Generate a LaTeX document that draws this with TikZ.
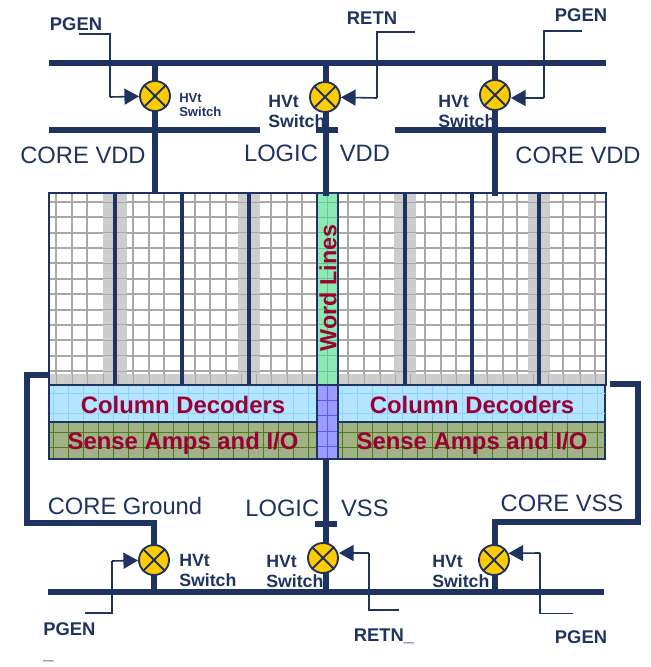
\documentclass[tikz,border=0pt]{standalone}
\usepackage{fontspec}
\setmainfont{Liberation Sans}
\usetikzlibrary{positioning, arrows.meta, backgrounds}
\definecolor{railblue}{HTML}{1F3360}
\definecolor{switchyellow}{HTML}{FFCC00}
\definecolor{textred}{HTML}{990033}
\definecolor{stripgray}{HTML}{CDCDCD}
\definecolor{gridgray}{HTML}{A8A8A8}
\definecolor{decblue}{HTML}{B4E4FF}
\definecolor{decgrid}{HTML}{8AD4FF}
\definecolor{ampgreen}{HTML}{A0B286}
\definecolor{ampgrid}{HTML}{4F7A1E}
\definecolor{wordgreen}{HTML}{8FE8B4}
\definecolor{wordgrid}{HTML}{5CCB8E}
\definecolor{midblue}{HTML}{9C9CFF}
\definecolor{midgrid}{HTML}{5A5AF0}

\begin{document}
\begin{tikzpicture}[
        x=0.75pt, y=-0.75pt,
        switchnode/.style={circle, draw=railblue, fill=switchyellow, line width=1.4pt, minimum size=22.5pt, inner sep=0pt},
        block/.style={rectangle, draw=railblue, line width=2pt, inner sep=0pt, outer sep=0pt},
        rail/.style={draw=railblue, line width=4.5pt},
        ctrl/.style={draw=railblue, line width=1.2pt},
        ctrlarrow/.style={ctrl, -{Triangle[length=11pt, width=12pt]}},
        xline/.style={draw=railblue, line width=1.4pt},
        biglabel/.style={text=railblue, inner sep=0pt, font=\fontsize{17.8}{20}\selectfont},
        pinlabel/.style={text=railblue, inner sep=0pt, font=\fontsize{13.8}{15}\selectfont\bfseries},
        hvtlabel/.style={text=railblue, inner sep=0pt, anchor=west, align=left, font=\fontsize{13.3}{15}\selectfont\bfseries},
        hvtsmall/.style={text=railblue, inner sep=0pt, anchor=west, align=left, font=\fontsize{9.8}{10.5}\selectfont\bfseries},
        redlabel/.style={text=textred, inner sep=0pt, font=\fontsize{17.9}{20}\selectfont\bfseries}
    ]
    \useasboundingbox (0,0) rectangle (650,667);

    % Switches
    \node[switchnode] (swtl) at (155,96) {};
    \node[switchnode] (swtm) at (325,97) {};
    \node[switchnode] (swtr) at (495,95) {};
    \node[switchnode] (swbl) at (154,560) {};
    \node[switchnode] (swbm) at (323,558) {};
    \node[switchnode] (swbr) at (494,560) {};
    \foreach \s in {swtl, swtm, swtr, swbl, swbm, swbr} {
        \draw[xline] (\s.45) -- (\s.225);
        \draw[xline] (\s.135) -- (\s.315);
    }

    \begin{scope}[on background layer]
        % Array
        \node[block, fill=white, minimum width=417.75pt, minimum height=144pt, anchor=north west] (array) at (49,193) {};
        \foreach \x in {56,72,87,133,149,164,195,210,226,271,287,302,348,364,380,425,441,456,487,503,517,563,580,595}
            \draw[gridgray, line width=1.5pt] (\x,193) -- (\x,375);
        \foreach \y in {202,217.4,232.7,248,263.4,278.8,294.1,309.5,324.8,340.2,355.5,371}
            \draw[gridgray, line width=1.5pt] (49,\y) -- (606,\y);
        \foreach \x/\w in {103/24, 238/22, 394/22, 528/22}
            \fill[stripgray] (\x,194) rectangle ++(\w,181);
        \fill[stripgray] (49,374) rectangle (606,385);
        \foreach \y in {202,217.4,232.7,248,263.4,278.8,294.1,309.5,324.8,340.2,355.5,371} {
            \draw[gridgray, line width=0.5pt] (103,\y) -- ++(24,0);
            \draw[gridgray, line width=0.5pt] (238,\y) -- ++(22,0);
            \draw[gridgray, line width=0.5pt] (394,\y) -- ++(22,0);
            \draw[gridgray, line width=0.5pt] (528,\y) -- ++(22,0);
        }
        \foreach \x in {56,72,87,103,118,133,149,164,180,195,210,226,241,256,271,287,302,348,364,380,395,410,425,441,456,472,487,503,517,533,548,563,580,595}
            \draw[gridgray, line width=0.5pt] (\x,374) -- (\x,385);
        \foreach \x in {115,182,249,405,472,539}
            \draw[railblue, line width=2.4pt] (\x,193) -- (\x,385);

        % Decoders and amps
        \node[block, fill=wordgreen, minimum width=15.75pt, minimum height=144pt, anchor=north west] (wordcol) at (317,193) {};
        \node[block, fill=midblue, minimum width=15.75pt, minimum height=55.5pt, below=0pt of wordcol] (midcol) {};
        \node[block, fill=decblue, minimum width=201pt, minimum height=27.75pt, left=0pt of midcol.north west, anchor=north east] (decl) {};
        \node[block, fill=ampgreen, minimum width=201pt, minimum height=27.75pt, below=0pt of decl] (ampl) {};
        \node[block, fill=decblue, minimum width=200.25pt, minimum height=27.75pt, right=0pt of midcol.north east, anchor=north west] (decr) {};
        \node[block, fill=ampgreen, minimum width=200.25pt, minimum height=27.75pt, below=0pt of decr] (ampr) {};

        % Cell lines inside the blocks
        \foreach \x in {53,68,...,308} {
            \draw[decgrid, line width=0.5pt] (\x,386) -- (\x,421);
            \draw[ampgrid, line width=0.5pt] (\x,423) -- (\x,458);
        }
        \foreach \x in {342,357,...,602} {
            \draw[decgrid, line width=0.5pt] (\x,386) -- (\x,421);
            \draw[ampgrid, line width=0.5pt] (\x,423) -- (\x,458);
        }
        \foreach \y in {393,413} {
            \draw[decgrid, line width=0.5pt] (50,\y) -- (316,\y);
            \draw[decgrid, line width=0.5pt] (339,\y) -- (605,\y);
        }
        \foreach \y in {432,447} {
            \draw[ampgrid, line width=0.5pt] (50,\y) -- (316,\y);
            \draw[ampgrid, line width=0.5pt] (339,\y) -- (605,\y);
        }
        \foreach \y in {202,217.4,232.7,248,263.4,278.8,294.1,309.5,324.8,340.2,355.5,371}
            \draw[wordgrid, line width=0.6pt] (318,\y) -- (337,\y);
        \draw[wordgrid, line width=0.6pt] (327,194) -- (327,384);
        \draw[midgrid, line width=0.6pt] (327,386) -- (327,458);
        \foreach \y in {400,415,431,446}
            \draw[midgrid, line width=0.6pt] (318,\y) -- (337,\y);
        \draw[block] (array.north west) rectangle (array.south east);

        % Rails
        \coordinate (toprail) at (49,63);
        \coordinate (toprailend) at (606,63);
        \coordinate (coretl) at (49,130);
        \coordinate (coretlend) at (260,130);
        \coordinate (logict) at (316,130);
        \coordinate (logictend) at (338,130);
        \coordinate (coretr) at (395,130);
        \coordinate (coretrend) at (606,130);
        \coordinate (botrail) at (48,592);
        \coordinate (botrailend) at (604,592);
        \coordinate (logicb) at (315,524);
        \coordinate (logicbend) at (337,524);
        \draw[rail] (toprail) -- (toprailend);
        \draw[rail] (coretl) -- (coretlend);
        \draw[rail] (logict) -- (logictend);
        \draw[rail] (coretr) -- (coretrend);
        \draw[rail] (botrail) -- (botrailend);
        \draw[rail] (logicb) -- (logicbend);

        % Supply drops
        \draw[rail] (swtl |- toprail) -- (swtl |- array.north);
        \draw[rail] (326,63) -- (326,196);
        \draw[rail] (swtr |- toprail) -- (495,196);
        \draw[rail] (326,459) -- (326,592);
        \coordinate (gndl) at (49,375);
        \coordinate (gndr) at (610,384);
        \draw[rail] (gndl) -- (27,375) -- (27,523) -- (154,523) -- (swbl |- botrail);
        \draw[rail] (gndr) -- (638,384) -- (638,522) -- (495,522) -- (495,592);
    \end{scope}

    % Block labels
    \node[redlabel] (coldecl) at (183,404.5) {Column Decoders};
    \node[redlabel] (coldecr) at (472,404.5) {Column Decoders};
    \node[redlabel] (sensel) at (183,443.5) {Sense Amps and I/O};
    \node[redlabel] (senser) at (472,443.5) {Sense Amps and I/O};
    \node[redlabel, font=\fontsize{17.5}{20}\selectfont\bfseries, rotate=90] (wordlines) at (328,288) {Word Lines};

    % Supply labels
    \node[biglabel] (vddl) at (83,155) {CORE VDD};
    \node[biglabel] (vddm) at (317,153) {LOGIC\hspace{11.5pt} VDD};
    \node[biglabel] (vddr) at (578,155) {CORE VDD};
    \node[biglabel] (gndlabel) at (125,506) {CORE Ground};
    \node[biglabel] (vssm) at (317,508) {LOGIC\hspace{11.5pt} VSS};
    \node[biglabel] (vssr) at (562,503) {CORE VSS};

    % Switch labels
    \node[hvtsmall] (hvttl) at (179,105) {HVt\\Switch};
    \node[hvtlabel] (hvttm) at (268,111.5) {HVt\\Switch};
    \node[hvtlabel] (hvttr) at (438,111.5) {HVt\\Switch};
    \node[hvtlabel] (hvtbl) at (179,570.5) {HVt\\Switch};
    \node[hvtlabel] (hvtbm) at (266,571) {HVt\\Switch};
    \node[hvtlabel] (hvtbr) at (432,571) {HVt\\Switch};

    % Control pins
    \node[pinlabel] (pgentl) at (76,24) {PGEN};
    \node[pinlabel] (retnt) at (372,18) {RETN};
    \node[pinlabel] (pgentr) at (581,15) {PGEN};
    \node[pinlabel, align=left, anchor=north west, font=\fontsize{13.8}{18.4}\selectfont\bfseries] (pgenbl) at (43,622) {PGEN\\\_};
    \node[pinlabel] (retnb) at (384,636) {RETN\_};
    \node[pinlabel] (pgenbr) at (581,637) {PGEN};

    \coordinate (pintl) at (79,34);
    \coordinate (kneetl) at (110,97);
    \coordinate (pintm) at (415,32);
    \coordinate (kneetm) at (377,98);
    \coordinate (pintr) at (582,31);
    \coordinate (kneetr) at (544,98);
    \coordinate (pinbl) at (85,613);
    \coordinate (kneebl) at (112,561);
    \coordinate (pinbm) at (399,610);
    \coordinate (kneebm) at (369,553);
    \coordinate (pinbr) at (573,613.5);
    \coordinate (kneebr) at (540,553);

    \draw[ctrl] (pintl) -| (kneetl);
    \draw[ctrlarrow] (kneetl) -- (swtl);
    \draw[ctrl] (pintm) -| (kneetm);
    \draw[ctrlarrow] (kneetm) -- (swtm);
    \draw[ctrl] (pintr) -| (kneetr);
    \draw[ctrlarrow] (kneetr) -- (swtr.east |- kneetr);
    \draw[ctrl] (pinbl) -| (kneebl);
    \draw[ctrlarrow] (kneebl) -- (swbl);
    \draw[ctrl] (pinbm) -| (kneebm);
    \draw[ctrlarrow] (kneebm) -- (swbm.east |- kneebm);
    \draw[ctrl] (pinbr) -| (kneebr);
    \draw[ctrlarrow] (kneebr) -- (swbr.25);

\end{tikzpicture}
\end{document}
